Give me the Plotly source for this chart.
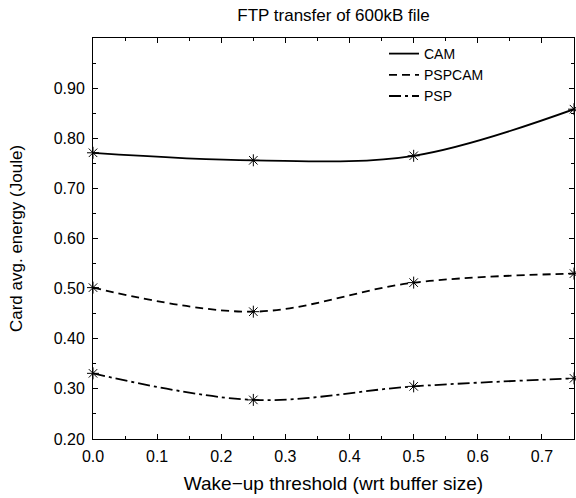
import plotly.graph_objects as go

thresholds = [0.0, 0.25, 0.5, 0.75]
cam = [0.771, 0.756, 0.765, 0.858]
pspcam = [0.502, 0.454, 0.512, 0.530]
psp = [0.331, 0.278, 0.305, 0.321]

series = [("CAM", cam, "solid"),
          ("PSPCAM", pspcam, "8px,5px"),
          ("PSP", psp, "12px,4px,3px,4px")]

y_ticks = [0.2, 0.3, 0.4, 0.5, 0.6, 0.7, 0.8, 0.9]
x_ticks = [0.0, 0.1, 0.2, 0.3, 0.4, 0.5, 0.6, 0.7]

FONT = "Liberation Sans, Arial, sans-serif"

W, H = 576, 498
fig = go.Figure()
for name, vals, dash in series:
    fig.add_trace(go.Scatter(
        x=thresholds, y=vals, name=name, mode="lines",
        line=dict(color="black", width=1.8, dash=dash, shape="spline", smoothing=1.0),
    ))
for name, vals, dash in series:
    fig.add_trace(go.Scatter(
        x=thresholds, y=vals, mode="markers", showlegend=False, cliponaxis=False,
        marker=dict(symbol="asterisk-open", size=10, color="black",
                    line=dict(color="black", width=1)),
    ))

fig.update_layout(
    width=W, height=H,
    margin=dict(l=93, r=2, t=38, b=59),
    paper_bgcolor="white", plot_bgcolor="white",
    font=dict(family=FONT, size=16, color="black"),
    title=dict(text="FTP transfer of 600kB file", x=(93 + 574) / 2 / W, xanchor="center",
               y=1 - 15 / H, yanchor="middle", font=dict(size=17)),
    legend=dict(x=0.605, y=1.0, xanchor="left", yanchor="top",
                bgcolor="rgba(0,0,0,0)", borderwidth=0, font=dict(size=14),
                tracegroupgap=0, itemwidth=30),
    showlegend=True,
)
fig.update_xaxes(
    range=[0, 0.75], tickvals=x_ticks, tickformat=".1f",
    ticks="inside", ticklen=5, tickcolor="black", showline=True, linecolor="black",
    linewidth=1, mirror="ticks", showgrid=False, zeroline=False, ticklabelstandoff=3,
    minor=dict(dtick=0.05, tick0=0, ticks="inside", ticklen=3, tickcolor="black"),
    title=dict(text="Wake\u2212up threshold (wrt buffer size)", standoff=12),
)
fig.update_yaxes(
    range=[0.2, 1.0], tickvals=y_ticks, tickformat=".2f",
    ticks="inside", ticklen=5, tickcolor="black", showline=True, linecolor="black",
    linewidth=1, mirror="ticks", showgrid=False, zeroline=False, ticklabelstandoff=4,
    minor=dict(dtick=0.05, tick0=0, ticks="inside", ticklen=3, tickcolor="black"),
    title=dict(text="Card avg. energy (Joule)", standoff=26, font=dict(size=17)),
)
fig.write_html("out.html", config={"displayModeBar": False},
               post_script="document.body.style.margin='0';document.body.style.overflow='hidden';")
